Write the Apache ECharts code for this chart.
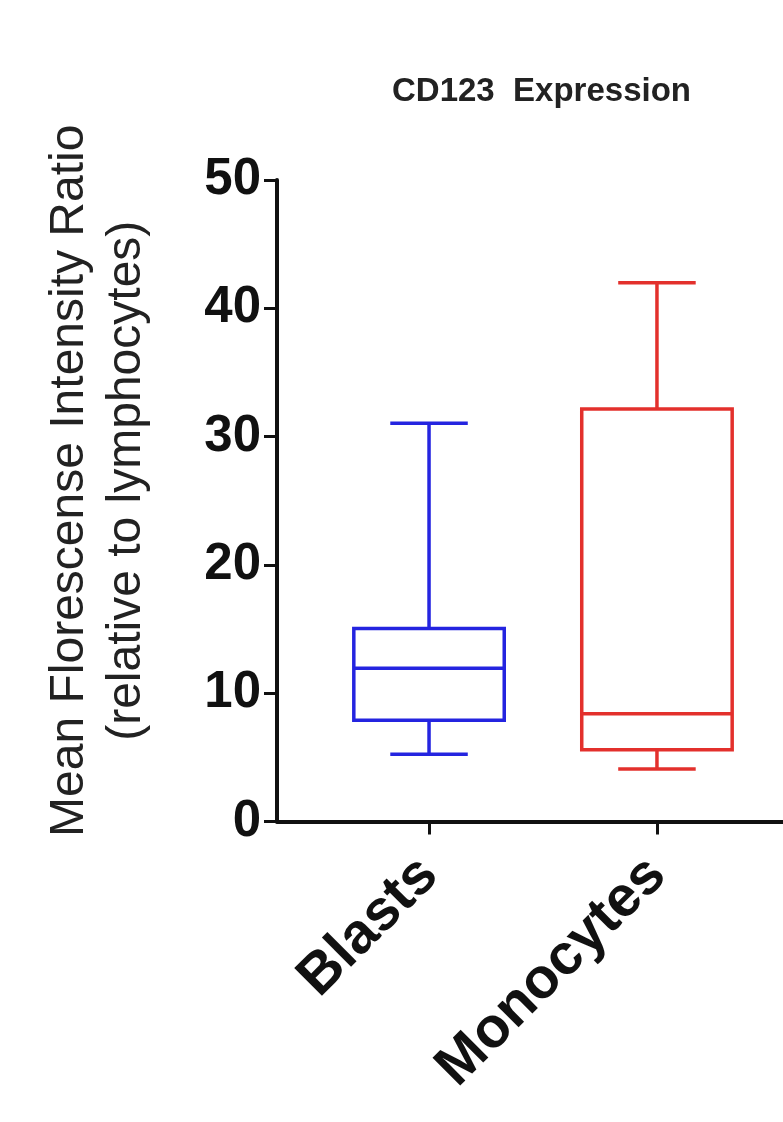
<!DOCTYPE html>
<html>
<head>
<meta charset="utf-8">
<title>CD123 Expression</title>
<script src="https://cdn.jsdelivr.net/npm/echarts@6/dist/echarts.min.js"></script>
<style>
  html, body { margin: 0; padding: 0; background: #fff; }
  #chart { width: 783px; height: 1122px; }
</style>
</head>
<body>
<div id="chart"></div>
<script>
// box plot summary per group
var categories = ['Blasts', 'Monocytes'];
var positions  = [1, 2];
var mins       = [5.25, 4.1];
var q1s        = [7.9, 5.6];
var medians    = [11.95, 8.4];
var q3s        = [15.05, 32.15];
var maxs       = [31.05, 42.0];
var yTicks     = [0, 10, 20, 30, 40, 50];

var boxColors = ['#2424e0', '#e3302c'];
var FONT = '"Liberation Sans", Arial, Helvetica, sans-serif';
var BOX_W = 0.66;   // box width in x units
var CAP_W = 0.34;   // whisker cap width in x units

var boxData = positions.map(function (p, i) {
    return [p, mins[i], q1s[i], medians[i], q3s[i], maxs[i]];
});

var chart = echarts.init(document.getElementById('chart'));

var option = {
    backgroundColor: '#fff',
    animation: false,
    title: {
        text: 'CD123  Expression',
        left: 387,
        top: 70,
        textStyle: {
            fontFamily: FONT,
            fontSize: 33,
            fontWeight: 'bold',
            color: '#222'
        }
    },
    grid: {
        left: 277,
        top: 180,
        right: 0,
        bottom: 300.5
    },
    xAxis: {
        type: 'value',
        min: 0.333,
        max: 2.553,
        splitLine: { show: false },
        axisLine: {
            onZero: false,
            lineStyle: { color: '#111', width: 4 }
        },
        axisTick: {
            show: true,
            customValues: positions,
            length: 13,
            lineStyle: { color: '#111', width: 3 }
        },
        axisLabel: {
            customValues: positions,
            formatter: function (v) {
                return categories[positions.indexOf(v)];
            },
            rotate: 45,
            margin: 45,
            fontFamily: FONT,
            fontSize: 57,
            fontWeight: 'bold',
            color: '#111'
        }
    },
    yAxis: {
        type: 'value',
        min: yTicks[0],
        max: yTicks[yTicks.length - 1],
        interval: yTicks[1] - yTicks[0],
        name: 'Mean Florescense Intensity Ratio\n(relative to lymphocytes)',
        nameLocation: 'middle',
        nameGap: 122,
        nameMoveOverlap: false,
        nameTextStyle: {
            fontFamily: FONT,
            fontSize: 48,
            lineHeight: 57,
            color: '#222',
            padding: [0, 0, 0, 40]
        },
        splitLine: { show: false },
        axisLine: {
            show: true,
            onZero: false,
            lineStyle: { color: '#111', width: 4 }
        },
        axisTick: {
            show: true,
            length: 13,
            lineStyle: { color: '#111', width: 3 }
        },
        axisLabel: {
            margin: 16,
            fontFamily: FONT,
            fontSize: 51,
            fontWeight: 'bold',
            color: '#111'
        }
    },
    series: [{
        type: 'custom',
        data: boxData,
        encode: { x: 0, y: [1, 2, 3, 4, 5] },
        renderItem: function (params, api) {
            var x = api.value(0);
            var pMin = api.coord([x, api.value(1)]);
            var pQ1 = api.coord([x, api.value(2)]);
            var pMed = api.coord([x, api.value(3)]);
            var pQ3 = api.coord([x, api.value(4)]);
            var pMax = api.coord([x, api.value(5)]);
            var hb = api.size([BOX_W, 0])[0] / 2;
            var hc = api.size([CAP_W, 0])[0] / 2;
            var cx = pMed[0];
            var style = {
                stroke: boxColors[params.dataIndex],
                lineWidth: 3.5,
                fill: 'none'
            };
            return {
                type: 'group',
                children: [
                    { type: 'rect', shape: { x: cx - hb, y: pQ3[1], width: hb * 2, height: pQ1[1] - pQ3[1] }, style: style },
                    { type: 'line', shape: { x1: cx - hb, y1: pMed[1], x2: cx + hb, y2: pMed[1] }, style: style },
                    { type: 'line', shape: { x1: cx, y1: pQ3[1], x2: cx, y2: pMax[1] }, style: style },
                    { type: 'line', shape: { x1: cx, y1: pQ1[1], x2: cx, y2: pMin[1] }, style: style },
                    { type: 'line', shape: { x1: cx - hc, y1: pMax[1], x2: cx + hc, y2: pMax[1] }, style: style },
                    { type: 'line', shape: { x1: cx - hc, y1: pMin[1], x2: cx + hc, y2: pMin[1] }, style: style }
                ]
            };
        }
    }]
};

chart.setOption(option);
</script>
</body>
</html>
